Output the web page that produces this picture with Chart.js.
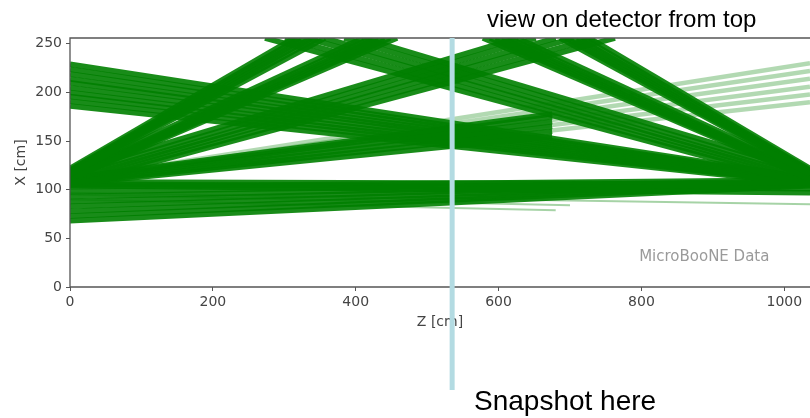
<!DOCTYPE html>
<html>
<head>
<meta charset="utf-8">
<script src="https://cdn.jsdelivr.net/npm/chart.js@4.4.1/dist/chart.umd.min.js"></script>
<style>
  html, body { margin: 0; padding: 0; background: #fff; overflow: hidden; }
  #wrap { position: relative; width: 810px; height: 418px; }
</style>
</head>
<body>
<div id="wrap"><canvas id="tracks"></canvas></div>
<script>
// axis ranges (cm) and ticks
const zRange = [0, 1036];
const xRange = [0, 256];
const zTickValues = [0, 200, 400, 600, 800, 1000];
const xTickValues = [0, 50, 100, 150, 200, 250];

// track bundles, each track is [z0, x0, z1, x1] in cm
// left fan, steepest -> flattest
const leftSteep = [[0,116,357,256],[0,117,347,256],[0,118,338,256],[0,119,330,256],[0,120,322,256],[0,122,314,256]];
const leftSecond = [[0,111,458,256],[0,112,448,256],[0,113,440,256],[0,114,431,256],[0,115,422,256],[0,117,410,256]];
const leftThird = [[0,105,763,256],[0,107,735,256],[0,110,705,256],[0,112,680,256],[0,115,652,256],[0,118,627,256]];
const leftFourth = [[0,106,675,155],[0,107,675,160],[0,108,675,165],[0,110,675,170],[0,111,675,175],[0,112,675,178]];
const leftFourthFaded = [[0,107,1036,190],[0,108,1036,198],[0,108,1036,206],[0,109,1036,214],[0,110,1036,222],[0,111,1036,230]];
const leftFlat = [[0,104,1036,97],[0,106,1036,101],[0,108,1036,106]];

// right fan, steepest -> flattest
const rightSteep = [[1036,116,686,256],[1036,117,694,256],[1036,118,702,256],[1036,119,710,256],[1036,120,718,256],[1036,122,727,256]];
const rightSecond = [[1036,111,578,256],[1036,112,588,256],[1036,113,596,256],[1036,114,605,256],[1036,115,614,256],[1036,117,626,256]];
const rightThird = [[1036,105,273,256],[1036,107,301,256],[1036,110,331,256],[1036,112,356,256],[1036,115,384,256],[1036,118,409,256]];
const rightFourth = [[1036,106,0,186],[1036,107,0,191],[1036,107,0,196],[1036,108,0,200],[1036,109,0,205],[1036,109,0,210],[1036,110,0,214],[1036,111,0,219],[1036,111,0,224],[1036,112,0,229]];
const rightFlat = [[1036,104,0,68],[1036,105,0,73],[1036,106,0,78],[1036,107,0,83],[1036,108,0,88],[1036,108,0,93],[1036,109,0,98],[1036,110,0,103]];

// loose short / faint tracks
const strayTracks = [[0,90,680,79],[0,95,700,84],[0,97,1036,85]];

const snapshotZ = 535;
const notePos = [888, 31];

const darkBundles = [leftSteep, leftSecond, leftThird, leftFourth, leftFlat,
                     rightSteep, rightSecond, rightThird, rightFourth, rightFlat];

function toDataset(track, color, width) {
  return {
    data: [{ x: track[0], y: track[1] }, { x: track[2], y: track[3] }],
    showLine: true,
    borderColor: color,
    borderWidth: width,
    pointRadius: 0,
    borderCapStyle: 'butt'
  };
}

const datasets = [];
strayTracks.forEach(t => datasets.push(toDataset(t, 'rgba(0,128,0,0.35)', 2)));
leftFourthFaded.forEach(t => datasets.push(toDataset(t, 'rgba(0,128,0,0.3)', 4.5)));
darkBundles.forEach(b => b.forEach(t => datasets.push(toDataset(t, 'rgba(0,128,0,0.9)', 5.5))));

const overlay = {
  id: 'overlay',
  afterDatasetsDraw(chart) {
    const { ctx, chartArea, scales } = chart;
    ctx.save();
    // frame
    ctx.strokeStyle = '#555';
    ctx.lineWidth = 1.3;
    ctx.beginPath();
    ctx.moveTo(chartArea.right + 2, chartArea.top);
    ctx.lineTo(chartArea.left, chartArea.top);
    ctx.lineTo(chartArea.left, chartArea.bottom);
    ctx.lineTo(chartArea.right + 2, chartArea.bottom);
    ctx.stroke();

    // experiment label
    ctx.fillStyle = '#9a9a9a';
    ctx.font = '15px "DejaVu Sans"';
    ctx.textAlign = 'center';
    ctx.textBaseline = 'middle';
    ctx.fillText('MicroBooNE Data', scales.x.getPixelForValue(notePos[0]), scales.y.getPixelForValue(notePos[1]));

    // snapshot marker
    const sx = scales.x.getPixelForValue(snapshotZ);
    ctx.strokeStyle = '#b3dbe2';
    ctx.lineWidth = 5;
    ctx.beginPath();
    ctx.moveTo(sx, chartArea.top);
    ctx.lineTo(sx, 390);
    ctx.stroke();

    // captions
    ctx.fillStyle = '#000';
    ctx.textAlign = 'left';
    ctx.textBaseline = 'alphabetic';
    ctx.font = '24px "Liberation Sans"';
    ctx.fillText('view on detector from top', 487, 27);
    ctx.font = '28px "Liberation Sans"';
    ctx.fillText('Snapshot here', 474, 410);
    ctx.restore();
  }
};

const tickFont = { family: 'DejaVu Sans', size: 14 };

new Chart(document.getElementById('tracks'), {
  type: 'scatter',
  data: { datasets },
  options: {
    responsive: true,
    maintainAspectRatio: false,
    animation: false,
    events: [],
    layout: { padding: { top: 38, left: 8, right: 0, bottom: 78 } },
    plugins: { legend: { display: false }, tooltip: { enabled: false } },
    scales: {
      x: {
        type: 'linear',
        min: zRange[0], max: zRange[1],
        afterBuildTicks: s => { s.ticks = zTickValues.map(v => ({ value: v })); },
        afterFit: s => { s.height = 53; },
        border: { display: false },
        grid: { drawOnChartArea: false, drawTicks: true, tickLength: 4, color: '#555' },
        ticks: { font: tickFont, color: '#444', padding: 3, maxRotation: 0, callback: v => String(v) },
        title: { display: true, text: 'Z [cm]', font: tickFont, color: '#444', padding: { top: 0, bottom: 9 } }
      },
      y: {
        type: 'linear',
        min: xRange[0], max: xRange[1],
        afterBuildTicks: s => { s.ticks = xTickValues.map(v => ({ value: v })); },
        afterFit: s => { s.width = 62; },
        border: { display: false },
        grid: { drawOnChartArea: false, drawTicks: true, tickLength: 4, color: '#555' },
        ticks: { font: tickFont, color: '#444', padding: 4, callback: v => String(v) },
        title: { display: true, text: 'X [cm]', font: tickFont, color: '#444', padding: { top: 5, bottom: 0 } }
      }
    }
  },
  plugins: [overlay]
});
</script>
</body>
</html>
